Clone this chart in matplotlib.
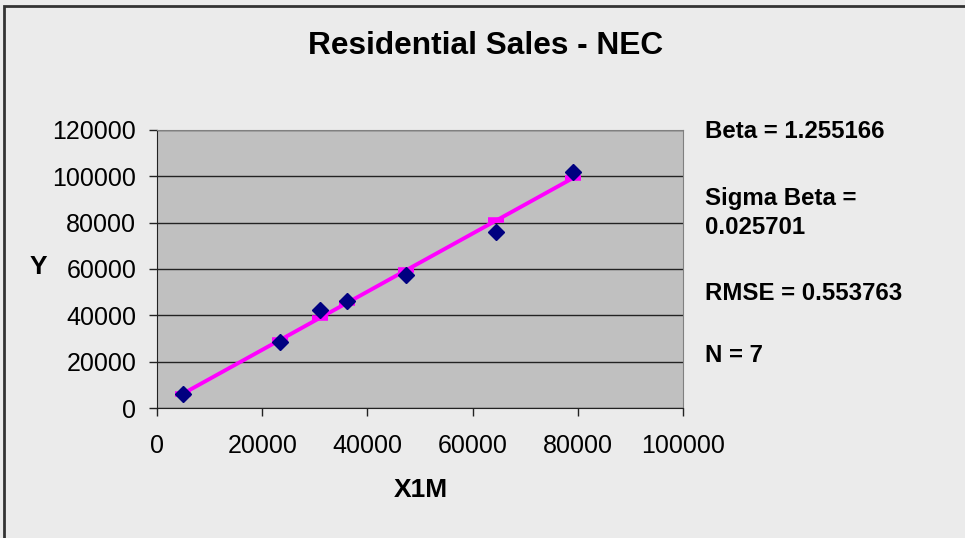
import matplotlib
matplotlib.use("Agg")
import matplotlib.pyplot as plt
from matplotlib.patches import Rectangle

plt.rcParams['font.family'] = ['Liberation Sans', 'DejaVu Sans']

title = "Residential Sales - NEC"
x_label = "X1M"
y_label = "Y"
x_obs = [4900, 23300, 30900, 36200, 47300, 64500, 79000]
y_obs = [6000, 28700, 42400, 46400, 57200, 76000, 101900]
y_fit = [6150, 29250, 38800, 45450, 59400, 80950, 99150]
stats_lines = ["Beta = 1.255166", "Sigma Beta =", "0.025701", "RMSE = 0.553763", "N = 7"]
x_ticks = [0, 20000, 40000, 60000, 80000, 100000]
y_ticks = [0, 20000, 40000, 60000, 80000, 100000, 120000]

W, H = 965, 538
fig = plt.figure(figsize=(W / 100, H / 100), dpi=100)
fig.patch.set_facecolor('#EBEBEB')
fig.patches.append(Rectangle((4 / W, -0.1), 1.2, (H - 6) / H + 0.1, transform=fig.transFigure,
                             fill=False, edgecolor='#333333', linewidth=2))

ax = fig.add_axes([157 / W, 1 - 408 / H, (683 - 157) / W, (408 - 130) / H])
ax.set_facecolor('#C0C0C0')
ax.set_xlim(0, 100000)
ax.set_ylim(0, 120000)
ax.set_xticks(x_ticks)
ax.set_yticks(y_ticks)
ax.set_xticklabels([str(v) for v in x_ticks])
ax.set_yticklabels([str(v) for v in y_ticks])
ax.tick_params(axis='both', direction='out', length=6, width=1, colors='#222222',
               labelsize=18, labelcolor='black')
ax.tick_params(axis='x', pad=13)
ax.tick_params(axis='y', pad=9)
ax.yaxis.grid(True, color='#222222', linewidth=1)
ax.set_axisbelow(True)
for s in ['top', 'right']:
    ax.spines[s].set_color('#808080')
for s in ['left', 'bottom']:
    ax.spines[s].set_color('#222222')

ax.plot(x_obs, y_fit, color='#FF00FF', linewidth=2.8, marker='_', markersize=11,
        markeredgewidth=4, zorder=3, clip_on=False)
ax.plot(x_obs, y_obs, linestyle='none', marker='D', color='#000080', markersize=8, zorder=4,
        clip_on=False)

fig.text(486 / W, 1 - 46 / H, title, ha='center', va='center', fontsize=22.8, fontweight='bold')
fig.text(38 / W, 1 - 267 / H, y_label, ha='center', va='center', fontsize=19, fontweight='bold')
fig.text(421 / W, 1 - 490 / H, x_label, ha='center', va='center', fontsize=19, fontweight='bold')

ys = [131, 198, 227, 293, 356]
for line, yp in zip(stats_lines, ys):
    fig.text(705 / W, 1 - yp / H, line, ha='left', va='center', fontsize=17.3, fontweight='bold')

fig.savefig('out.png', dpi=100, facecolor=fig.get_facecolor())
